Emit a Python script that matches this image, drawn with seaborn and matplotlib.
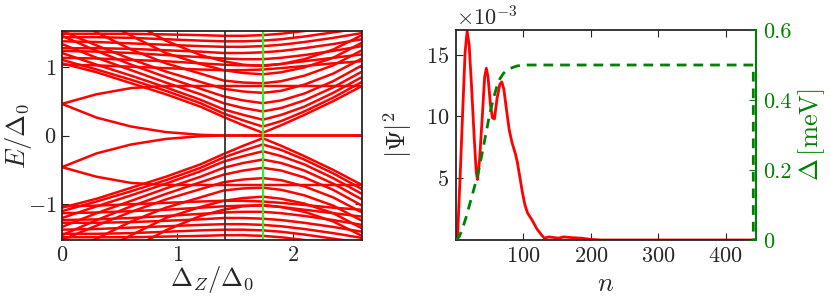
import numpy as np
import pandas as pd
import matplotlib
matplotlib.use("Agg")
import matplotlib.pyplot as plt
import seaborn as sns

# ---- left panel: spectrum vs Zeeman field (positive branches, mirrored below)
dz = [0.0, 0.3, 0.6, 0.9, 1.2, 1.4, 1.57, 1.74, 1.9, 2.1, 2.35, 2.6]

a_low = [0.46, 0.26, 0.13, 0.05, 0.01, 0.0, 0.0, 0.0, 0.0, 0.0, 0.0, 0.0]
a_high = [0.46, 0.60, 0.69, 0.72, 0.72, 0.72, 0.72, 0.72, 0.72, 0.72, 0.72, 0.72]

d1 = [1.05, 0.92, 0.76, 0.60, 0.42, 0.27, 0.15, 0.04, 0.15, 0.30, 0.50, 0.72]
d2 = [1.10, 0.96, 0.81, 0.65, 0.47, 0.32, 0.22, 0.13, 0.21, 0.35, 0.55, 0.78]
d3 = [1.20, 1.03, 0.87, 0.70, 0.52, 0.38, 0.30, 0.23, 0.30, 0.42, 0.62, 0.85]
d4 = [1.33, 1.13, 0.95, 0.77, 0.60, 0.47, 0.40, 0.35, 0.40, 0.51, 0.70, 0.93]
d5 = [1.45, 1.23, 1.03, 0.85, 0.68, 0.57, 0.51, 0.47, 0.51, 0.61, 0.79, 1.02]
d6 = [1.52, 1.31, 1.11, 0.93, 0.78, 0.68, 0.64, 0.62, 0.65, 0.74, 0.90, 1.12]
d7 = [1.75, 1.50, 1.25, 1.05, 0.90, 0.80, 0.77, 0.76, 0.79, 0.87, 1.02, 1.24]
d8 = [1.95, 1.72, 1.45, 1.20, 1.04, 0.95, 0.91, 0.89, 0.92, 0.99, 1.13, 1.35]
d9 = [2.10, 1.90, 1.65, 1.38, 1.17, 1.08, 1.03, 1.01, 1.04, 1.11, 1.25, 1.46]

f1 = [1.03, 1.02, 1.00, 0.98, 0.96, 0.95, 0.95, 0.96, 0.98, 1.01, 1.05, 1.08]
f2 = [1.13, 1.12, 1.10, 1.08, 1.05, 1.03, 1.02, 1.02, 1.04, 1.08, 1.13, 1.18]
f3 = [1.23, 1.22, 1.20, 1.17, 1.14, 1.12, 1.11, 1.11, 1.13, 1.17, 1.23, 1.30]
f4 = [1.27, 1.27, 1.26, 1.24, 1.22, 1.20, 1.20, 1.21, 1.23, 1.27, 1.33, 1.40]
f5 = [1.37, 1.36, 1.34, 1.32, 1.30, 1.29, 1.29, 1.30, 1.32, 1.36, 1.42, 1.49]
f6 = [1.43, 1.43, 1.42, 1.40, 1.38, 1.37, 1.37, 1.38, 1.40, 1.44, 1.50, 1.56]
f7 = [1.48, 1.48, 1.48, 1.47, 1.46, 1.45, 1.45, 1.46, 1.48, 1.52, 1.57, 1.62]

branches = [a_low, a_high, d1, d2, d3, d4, d5, d6, d7, d8, d9,
            f1, f2, f3, f4, f5, f6, f7]

dz_black = 1.41
dz_green = 1.74

# ---- right panel: wavefunction and pairing profile along the wire
n_psi = [0, 2.5, 6, 10, 13.5, 16.5, 19.5, 23, 27, 30, 32, 35, 39, 42.5, 45,
         47.5, 51, 54, 57, 61, 65, 68, 71, 75, 79, 83, 88, 91, 95, 98, 102,
         106, 113, 120, 127, 131, 138, 145, 152, 160, 170, 185, 200, 215, 445]
psi = [0, 0.5, 5.0, 10.5, 15.2, 16.9, 15.8, 12.5, 8.3, 5.5, 4.9, 6.5, 10.0,
       13.2, 13.9, 13.2, 11.0, 9.9, 9.8, 11.5, 12.6, 12.8, 12.2, 10.5, 8.9,
       7.9, 7.0, 6.3, 5.0, 4.0, 2.9, 2.2, 1.6, 0.9, 0.4, 0.15, 0.25, 0.2,
       0.15, 0.25, 0.2, 0.15, 0.05, 0.0, 0.0]  # x 1e-3

n_gap = [0, 5, 10, 15, 20, 25, 30, 35, 40, 45, 50, 55, 60, 65, 70, 75, 80,
         90, 100, 441, 441]
gap = [0.0, 0.01, 0.035, 0.065, 0.10, 0.135, 0.17, 0.21, 0.26, 0.31, 0.36,
       0.40, 0.435, 0.46, 0.475, 0.485, 0.49, 0.497, 0.5, 0.5, 0.0]

rows = []
for i, e in enumerate(branches):
    for sgn in (1, -1):
        for x, v in zip(dz, e):
            rows.append((f"{i}_{sgn}", x, sgn * v))
spec = pd.DataFrame(rows, columns=["branch", "dz", "E"])

sns.set_style("ticks")
plt.rcParams["font.family"] = ["cmr10", "DejaVu Serif"]
plt.rcParams["mathtext.fontset"] = "cm"
plt.rcParams["axes.unicode_minus"] = False
plt.rcParams["axes.formatter.use_mathtext"] = True

dark = "#262626"
green = "#008000"
fs_tick = 16
fs_lab = 19

fig = plt.figure(figsize=(8.3, 3.07), dpi=100)
ax1 = fig.add_axes([62 / 830, 67 / 307, 300 / 830, 209 / 307])
ax2 = fig.add_axes([456 / 830, 67 / 307, 300 / 830, 210 / 307])

# spectrum
sns.lineplot(data=spec, x="dz", y="E", units="branch", estimator=None,
             sort=False, color="red", lw=1.8, ax=ax1, legend=False)
ax1.axvline(dz_black, color="#333333", lw=1.3)
ax1.axvline(dz_green, color="#33ee33", lw=1.6)
ax1.set_xlim(0, 2.6)
ax1.set_ylim(-1.52, 1.52)
ax1.set_xticks([0, 1, 2])
ax1.set_yticks([-1, 0, 1])
ax1.set_xlabel(r"$\Delta_Z/\Delta_0$", fontsize=fs_lab)
ax1.set_ylabel(r"$E/\Delta_0$", fontsize=fs_lab)
ax1.xaxis.set_label_coords(0.5, -0.115)
ax1.yaxis.set_label_coords(-0.095, 0.5)
ax1.tick_params(direction="in", top=True, right=True, length=5,
                labelsize=fs_tick, color=dark, pad=4)

# wavefunction
sns.lineplot(x=n_psi, y=np.array(psi) * 1e-3, color="red", lw=2, ax=ax2,
             estimator=None, sort=False)
ax2.set_xlim(0, 445)
ax2.set_ylim(0, 0.017)
ax2.set_xticks([100, 200, 300, 400])
ax2.set_yticks([0.005, 0.010, 0.015])
ax2.ticklabel_format(axis="y", style="sci", scilimits=(-3, -3))
ax2.yaxis.get_offset_text().set_fontsize(fs_tick)
ax2.set_xlabel(r"$n$", fontsize=fs_lab)
ax2.set_ylabel(r"$|\mathbf{\Psi}|^2$", fontsize=fs_lab)
ax2.xaxis.set_label_coords(0.5, -0.155)
ax2.yaxis.set_label_coords(-0.14, 0.5)
ax2.tick_params(direction="in", top=True, right=False, length=5,
                labelsize=fs_tick, color=dark, pad=5)

ax3 = ax2.twinx()
sns.lineplot(x=n_gap, y=gap, color=green, lw=2, ax=ax3, estimator=None,
             sort=False, linestyle=(0, (3.5, 2.5)))
ax3.set_ylim(0, 0.6)
ax3.set_yticks([0, 0.2, 0.4, 0.6])
ax3.set_yticklabels(["0", "0.2", "0.4", "0.6"])
ax3.set_ylabel(r"$\Delta\,[\mathrm{meV}]$", fontsize=fs_lab, color=green)
ax3.yaxis.set_label_coords(1.135, 0.5)
ax3.tick_params(direction="in", length=5, labelsize=fs_tick, colors=green,
                pad=5)
ax3.spines["right"].set_color(green)
ax3.spines["right"].set_linewidth(1.5)

for ax in (ax1, ax2):
    for s in ax.spines.values():
        s.set_color(dark)
        s.set_linewidth(1.3)
for s in ("left", "top", "bottom"):
    ax3.spines[s].set_visible(False)

fig.savefig("out.png", dpi=100)
